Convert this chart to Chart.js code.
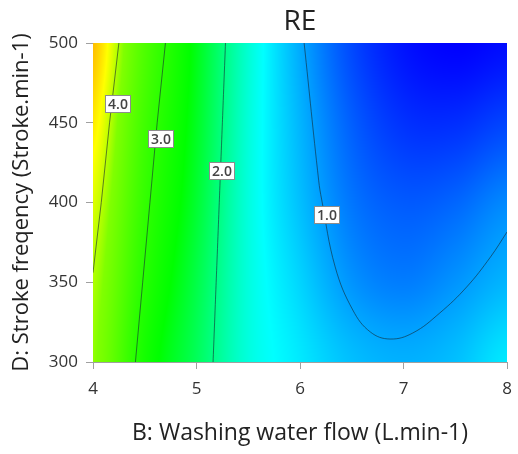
<!DOCTYPE html>
<html>
<head>
<meta charset="utf-8">
<script src="https://cdn.jsdelivr.net/npm/chart.js@4.4.1/dist/chart.umd.min.js"></script>
<style>
  html, body { margin: 0; padding: 0; background: #fff; }
</style>
</head>
<body>
<canvas id="chart" width="518" height="454"></canvas>
<script>
// axis ticks
const xTicks = [4, 5, 6, 7, 8];
const yTicks = [300, 350, 400, 450, 500];

// response surface RE sampled on a coarse grid (rows = stroke frequency)
const gridX = [4, 4.5, 5, 5.5, 6, 6.5, 7, 7.5, 8];
const gridY = [300, 350, 400, 450, 500];
const reAt300 = [3.95, 2.80, 2.20, 1.60, 1.35, 1.15, 1.08, 1.15, 1.35];
const reAt350 = [4.05, 2.97, 2.28, 1.60, 1.25, 0.95, 0.85, 0.95, 1.10];
const reAt400 = [4.20, 3.12, 2.38, 1.60, 1.15, 0.82, 0.70, 0.75, 0.90];
const reAt450 = [4.38, 3.25, 2.45, 1.62, 1.10, 0.72, 0.52, 0.50, 0.60];
const reAt500 = [4.55, 3.40, 2.50, 1.65, 1.05, 0.62, 0.38, 0.30, 0.35];
const reRows = [reAt300, reAt350, reAt400, reAt450, reAt500];

// contour lines
const levels = [4.0, 3.0, 2.0, 1.0];
const contour4X = [4.25, 4.16, 4.08, 4.0];
const contour4Y = [500, 450, 400, 356];
const contour3X = [4.70, 4.62, 4.55, 4.48, 4.41];
const contour3Y = [500, 450, 400, 350, 300];
const contour2X = [5.28, 5.25, 5.22, 5.19, 5.16];
const contour2Y = [500, 450, 400, 350, 300];
const contour1X = [6.04, 6.18, 6.21, 6.34, 6.51, 6.68, 6.87, 7.09, 7.35, 7.61, 7.84, 8.0];
const contour1Y = [500, 414, 401.6, 359.6, 332.6, 318.8, 314.4, 318.2, 330.7, 347, 365.8, 381.5];

// where each level's label sits on its line
const labelX = [4.24, 4.66, 5.25, 6.26];
const labelY = [462, 440, 420, 392];

// colour ramp: value -> rgb
const rampValue = [0.3, 0.7, 1.0, 1.45, 2.6, 3.9, 4.3, 4.7, 5.2];
const rampColor = [
  [0, 0, 255], [0, 90, 255], [0, 160, 255], [0, 255, 255], [0, 255, 0],
  [128, 255, 0], [255, 255, 0], [255, 150, 0], [255, 0, 0]
];

function colorFor(v) {
  if (v <= rampValue[0]) return rampColor[0];
  for (let i = 0; i < rampValue.length - 1; i++) {
    if (v <= rampValue[i + 1]) {
      const t = (v - rampValue[i]) / (rampValue[i + 1] - rampValue[i]);
      const a = rampColor[i], b = rampColor[i + 1];
      return [a[0] + (b[0] - a[0]) * t, a[1] + (b[1] - a[1]) * t, a[2] + (b[2] - a[2]) * t];
    }
  }
  return rampColor[rampColor.length - 1];
}

// Catmull-Rom through four samples
function cubic(p0, p1, p2, p3, t) {
  return p1 + 0.5 * t * (p2 - p0 + t * (2 * p0 - 5 * p1 + 4 * p2 - p3 + t * (3 * (p1 - p2) + p3 - p0)));
}

function sample(arr, k) {
  return arr[Math.max(0, Math.min(arr.length - 1, k))];
}

function cellIndex(arr, v) {
  let i = 0;
  while (i < arr.length - 2 && v > arr[i + 1]) i++;
  return i;
}

function reAt(xv, yv) {
  const i = cellIndex(gridX, xv), j = cellIndex(gridY, yv);
  const tx = Math.min(1, Math.max(0, (xv - gridX[i]) / (gridX[i + 1] - gridX[i])));
  const ty = Math.min(1, Math.max(0, (yv - gridY[j]) / (gridY[j + 1] - gridY[j])));
  const col = [];
  for (let r = j - 1; r <= j + 2; r++) {
    const row = reRows[Math.max(0, Math.min(reRows.length - 1, r))];
    col.push(cubic(sample(row, i - 1), row[i], row[i + 1], sample(row, i + 2), tx));
  }
  return cubic(col[0], col[1], col[2], col[3], ty);
}

const heatmap = {
  id: 'heatmap',
  beforeDatasetsDraw(chart) {
    const {ctx, chartArea: area, scales: {x, y}} = chart;
    const left = Math.round(area.left), top = Math.round(area.top);
    const w = Math.round(area.right) - left, h = Math.round(area.bottom) - top;
    const img = ctx.createImageData(w, h);
    for (let j = 0; j < h; j++) {
      const yv = y.getValueForPixel(top + j + 0.5);
      for (let i = 0; i < w; i++) {
        const c = colorFor(reAt(x.getValueForPixel(left + i + 0.5), yv));
        const k = (j * w + i) * 4;
        img.data[k] = c[0];
        img.data[k + 1] = c[1];
        img.data[k + 2] = c[2];
        img.data[k + 3] = 255;
      }
    }
    ctx.putImageData(img, left, top);
  }
};

const contourLabels = {
  id: 'contourLabels',
  afterDatasetsDraw(chart) {
    const {ctx, scales: {x, y}} = chart;
    ctx.save();
    ctx.font = '600 14px "Open Sans"';
    ctx.textAlign = 'center';
    ctx.textBaseline = 'middle';
    levels.forEach((lv, i) => {
      const px = Math.round(x.getPixelForValue(labelX[i]));
      const py = Math.round(y.getPixelForValue(labelY[i]));
      const text = lv.toFixed(1);
      const w = Math.round(ctx.measureText(text).width + 6);
      const h = 18;
      const bx = px - Math.round(w / 2), by = py - h / 2;
      ctx.fillStyle = '#fff';
      ctx.fillRect(bx, by, w, h);
      ctx.strokeStyle = '#8c8c8c';
      ctx.lineWidth = 1;
      ctx.strokeRect(bx + 0.5, by + 0.5, w - 1, h - 1);
      ctx.fillStyle = '#444';
      ctx.fillText(text, px, py + 1);
    });
    ctx.restore();
  }
};

function toPoints(xs, ys) {
  return xs.map((v, i) => ({x: v, y: ys[i]}));
}

function contourSet(label, xs, ys, tension) {
  return {
    label: label,
    data: toPoints(xs, ys),
    showLine: true,
    borderColor: 'rgba(20,40,50,0.6)',
    borderWidth: 1,
    pointRadius: 0,
    tension: tension
  };
}

const axisGrid = {drawOnChartArea: false, tickLength: 7, color: '#a0a0a0'};
const axisBorder = {color: '#a0a0a0'};

new Chart(document.getElementById('chart'), {
  type: 'scatter',
  data: {
    datasets: [
      contourSet('4.0', contour4X, contour4Y, 0),
      contourSet('3.0', contour3X, contour3Y, 0),
      contourSet('2.0', contour2X, contour2Y, 0.2),
      contourSet('1.0', contour1X, contour1Y, 0.4)
    ]
  },
  options: {
    responsive: false,
    animation: false,
    layout: {padding: {right: 11}},
    plugins: {
      legend: {display: false},
      tooltip: {enabled: false},
      title: {
        display: true,
        text: 'RE',
        fullSize: false,
        color: '#222',
        font: {family: '"Open Sans"', size: 28, weight: 'normal'},
        padding: {top: 5, bottom: 4.4}
      }
    },
    scales: {
      x: {
        type: 'linear',
        min: 4,
        max: 8,
        afterFit: (s) => { s.height = 92; s.paddingLeft = 0; s.paddingRight = 0; },
        afterBuildTicks: (s) => { s.ticks = xTicks.map(v => ({value: v})); },
        grid: axisGrid,
        border: axisBorder,
        ticks: {color: '#333', padding: 10, font: {family: '"Open Sans"', size: 17}},
        title: {
          display: true,
          text: 'B: Washing water flow (L.min-1)',
          color: '#222',
          font: {family: '"Open Sans"', size: 23},
          padding: {top: 0, bottom: 7}
        }
      },
      y: {
        type: 'linear',
        min: 300,
        max: 500,
        afterFit: (s) => { s.width = 93; s.paddingTop = 0; s.paddingBottom = 0; },
        afterBuildTicks: (s) => { s.ticks = yTicks.map(v => ({value: v})); },
        grid: axisGrid,
        border: axisBorder,
        ticks: {color: '#333', padding: 8, font: {family: '"Open Sans"', size: 17}},
        title: {
          display: true,
          text: 'D: Stroke freqency (Stroke.min-1)',
          color: '#222',
          font: {family: '"Open Sans"', size: 22},
          padding: {top: 9, bottom: 0}
        }
      }
    }
  },
  plugins: [heatmap, contourLabels]
});
</script>
</body>
</html>
